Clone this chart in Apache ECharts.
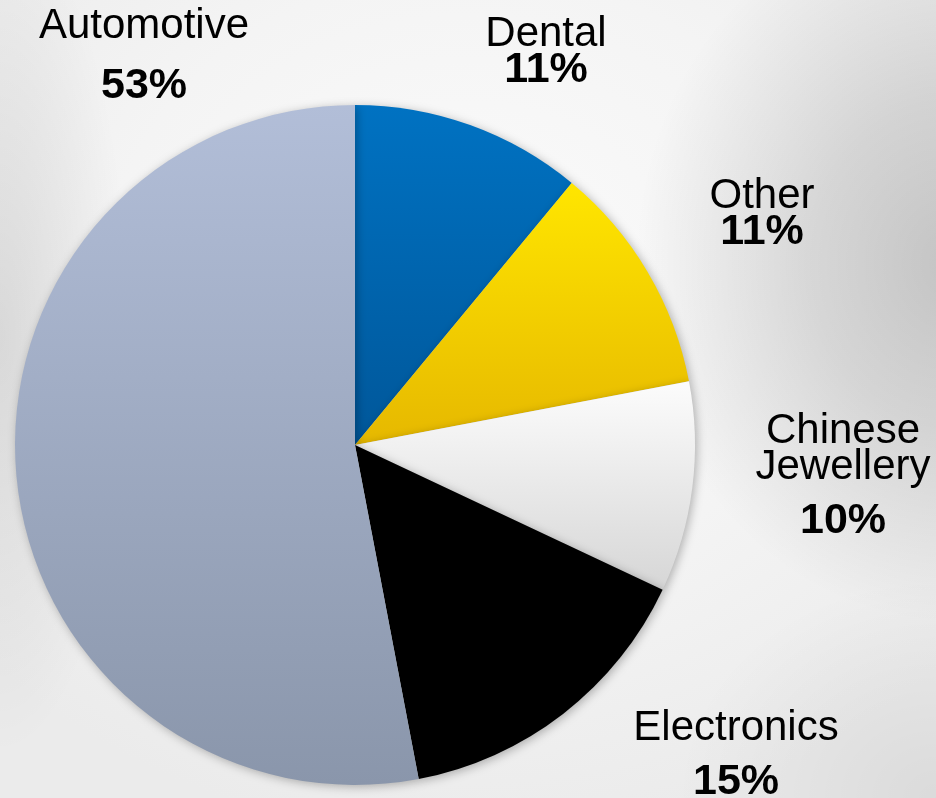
<!DOCTYPE html>
<html>
<head>
<meta charset="utf-8">
<script src="https://cdn.jsdelivr.net/npm/echarts@6/dist/echarts.min.js"></script>
<style>
html,body{margin:0;padding:0;}
#chart{width:936px;height:798px;
background:
  radial-gradient(ellipse 320px 360px at 102% 33%, rgba(0,0,0,0.19) 0%, rgba(0,0,0,0.12) 45%, rgba(0,0,0,0) 100%),
  radial-gradient(ellipse 130px 420px at 0% 42%, rgba(0,0,0,0.10) 0%, rgba(0,0,0,0) 100%),
  radial-gradient(ellipse 260px 220px at 100% 100%, rgba(0,0,0,0.07) 0%, rgba(0,0,0,0) 100%),
  radial-gradient(ellipse 70% 70% at 50% 35%, #fbfbfb 0%, #f4f4f4 55%, #ebebeb 100%);}
</style>
</head>
<body>
<div id="chart"></div>
<script>
// Data
var categories = ['Dental', 'Other', 'Chinese Jewellery', 'Electronics', 'Automotive'];
var values = [11, 11, 10, 15, 53];

// Styles (not data)
var fills = [
  ['#0072c2', '#00579a'],
  ['#ffe600', '#e6b800'],
  ['#fcfcfc', '#d6d6d6'],
  ['#000000', '#000000'],
  ['#b2bed8', '#8a96ab']
];
var labelGap = ['p', 'p', 'pg', 'pg', 'pw'];
var labelPos = [
  [546, 16],
  [762, 178],
  [843, 413],
  [736, 710],
  [144, 8]
];

var chart = echarts.init(document.getElementById('chart'), null, {renderer: 'canvas'});
var data = categories.map(function (c, i) {
  return {
    name: c,
    value: values[i],
    itemStyle: {
      color: new echarts.graphic.LinearGradient(0, 0, 0, 1, [
        {offset: 0, color: fills[i][0]},
        {offset: 1, color: fills[i][1]}
      ])
    }
  };
});

var ff = '"Liberation Sans", Arial, sans-serif';
chart.setOption({
  animation: false,
  series: [{
    type: 'pie',
    center: [355, 445],
    radius: 340,
    startAngle: 90,
    clockwise: true,
    avoidLabelOverlap: false,
    data: data,
    itemStyle: {
      borderWidth: 0,
      shadowBlur: 10,
      shadowColor: 'rgba(0,0,0,0.28)',
      shadowOffsetX: 2,
      shadowOffsetY: 2
    },
    labelLine: {show: false},
    label: {
      show: true,
      position: 'outside',
      formatter: function (p) {
        return '{n|' + p.name.replace(' ', '\n') + '}\n{' + labelGap[p.dataIndex] + '|' + p.value + '%}';
      },
      rich: {
        n: {fontFamily: ff, fontSize: 42, lineHeight: 36, color: '#000', align: 'center'},
        p: {fontFamily: ff, fontSize: 43, fontWeight: 'bold', lineHeight: 36, color: '#000', align: 'center'},
        pg: {fontFamily: ff, fontSize: 43, fontWeight: 'bold', lineHeight: 72, color: '#000', align: 'center'},
        pw: {fontFamily: ff, fontSize: 43, fontWeight: 'bold', lineHeight: 84, color: '#000', align: 'center'}
      }
    },
    labelLayout: function (params) {
      var pos = labelPos[params.dataIndex];
      return {x: pos[0], y: pos[1], align: 'center', verticalAlign: 'top', hideOverlap: false};
    },
    emphasis: {disabled: true}
  }]
});
</script>
</body>
</html>
